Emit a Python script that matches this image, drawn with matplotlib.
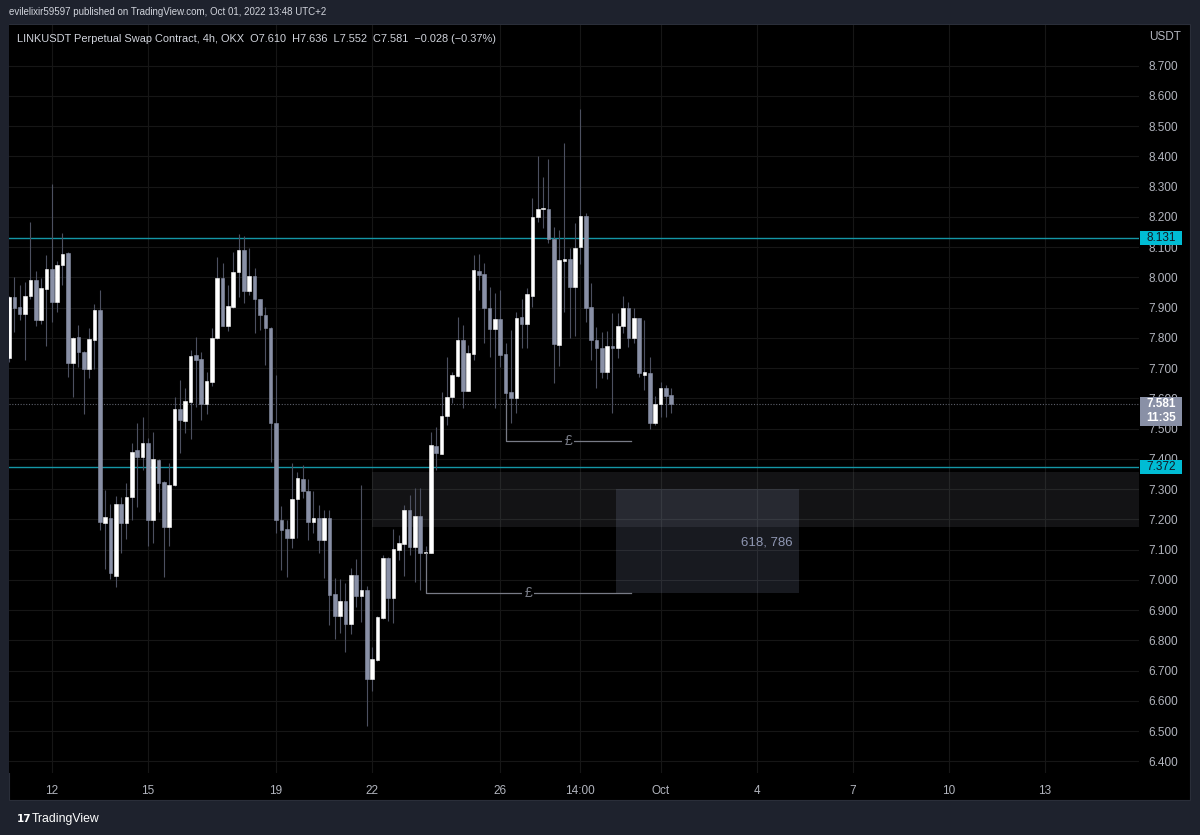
import matplotlib
matplotlib.use("Agg")
import matplotlib.pyplot as plt
import matplotlib.transforms as mtransforms
from matplotlib.patches import Rectangle
import numpy as np
import pandas as pd

# LINKUSDT perpetual, OKX, 4h bars (times in UTC+2)
first_bar = "2022-09-10 18:00"

opens = [7.734, 7.935, 7.903, 7.880, 7.939, 7.992, 7.859, 7.963, 8.027, 7.918,
         8.041, 8.082, 7.716, 7.802, 7.755, 7.696, 7.794, 7.891, 7.187, 7.204,
         7.014, 7.250, 7.189, 7.273, 7.430, 7.407, 7.452, 7.198, 7.397, 7.324,
         7.176, 7.313, 7.564, 7.526, 7.589, 7.743, 7.729, 7.582, 7.655, 7.799,
         7.997, 7.840, 7.903, 8.019, 8.091, 7.956, 8.006, 7.928, 7.876, 7.834,
         7.518, 7.198, 7.167, 7.138, 7.267, 7.333, 7.295, 7.193, 7.206, 7.132,
         7.206, 6.954, 6.881, 6.931, 6.854, 7.016, 6.948, 6.967, 6.672, 6.734,
         6.873, 7.072, 6.939, 7.099, 7.119, 7.231, 7.108, 7.211, 7.088, 7.090,
         7.444, 7.418, 7.543, 7.604, 7.675, 7.793, 7.626, 7.746, 8.021, 8.010,
         7.900, 7.829, 7.863, 7.746, 7.622, 7.600, 7.868, 7.846, 7.940, 8.199,
         8.225, 8.225, 8.126, 7.777, 8.054, 8.060, 7.969, 8.100, 8.204, 7.903,
         7.793, 7.768, 7.687, 7.774, 7.766, 7.840, 7.900, 7.801, 7.865, 7.677,
         7.685, 7.518, 7.582, 7.634, 7.610]
highs = [7.940, 8.002, 7.975, 7.986, 8.184, 8.022, 7.998, 8.075, 8.309, 8.055,
         8.148, 8.085, 7.803, 7.842, 7.757, 7.832, 7.912, 7.959, 7.297, 7.251,
         7.278, 7.275, 7.320, 7.454, 7.520, 7.538, 7.469, 7.490, 7.400, 7.326,
         7.386, 7.604, 7.661, 7.633, 7.760, 7.804, 7.755, 7.687, 7.832, 8.069,
         8.047, 7.975, 8.085, 8.144, 8.137, 8.096, 8.030, 7.930, 7.901, 7.836,
         7.678, 7.245, 7.198, 7.386, 7.358, 7.380, 7.333, 7.295, 7.248, 7.231,
         7.231, 7.005, 7.002, 6.989, 7.041, 7.069, 7.314, 6.981, 6.779, 6.881,
         7.083, 7.077, 7.167, 7.149, 7.248, 7.281, 7.303, 7.303, 7.112, 7.490,
         7.507, 7.622, 7.738, 7.689, 7.868, 7.843, 7.777, 8.074, 8.078, 8.049,
         7.969, 7.948, 7.959, 7.783, 7.826, 7.887, 7.928, 7.964, 8.262, 8.402,
         8.333, 8.391, 8.168, 8.157, 8.445, 8.096, 8.181, 8.556, 8.212, 7.983,
         7.837, 7.819, 7.823, 7.882, 7.882, 7.939, 7.920, 7.900, 7.867, 7.859,
         7.738, 7.608, 7.655, 7.644, 7.636]
lows = [7.721, 7.820, 7.859, 7.727, 7.929, 7.840, 7.846, 7.774, 7.854, 7.885,
        7.975, 7.672, 7.604, 7.705, 7.548, 7.669, 7.697, 7.165, 7.035, 7.002,
        6.978, 7.090, 7.135, 7.198, 7.242, 7.365, 7.113, 7.121, 7.226, 7.011,
        7.113, 7.310, 7.420, 7.485, 7.465, 7.571, 7.529, 7.548, 7.642, 7.797,
        7.839, 7.824, 7.898, 7.936, 7.915, 7.942, 7.815, 7.826, 7.711, 7.391,
        7.154, 7.033, 7.009, 7.105, 7.138, 7.270, 7.132, 7.154, 7.090, 7.005,
        6.851, 6.805, 6.826, 6.763, 6.820, 6.912, 6.862, 6.518, 6.634, 6.733,
        6.872, 6.865, 6.859, 7.066, 7.013, 7.083, 6.994, 6.967, 7.066, 7.088,
        7.363, 7.416, 7.512, 7.584, 7.672, 7.567, 7.624, 7.727, 7.959, 7.782,
        7.738, 7.567, 7.705, 7.595, 7.518, 7.553, 7.766, 7.766, 7.903, 8.184,
        8.162, 8.113, 7.652, 7.708, 7.885, 7.801, 7.806, 8.044, 7.854, 7.727,
        7.633, 7.667, 7.663, 7.551, 7.733, 7.815, 7.771, 7.784, 7.672, 7.628,
        7.498, 7.512, 7.540, 7.540, 7.552]
closes = [7.935, 7.899, 7.878, 7.940, 7.992, 7.859, 7.966, 8.027, 7.919, 8.041,
          8.077, 7.718, 7.801, 7.755, 7.697, 7.798, 7.893, 7.193, 7.207, 7.022,
          7.250, 7.189, 7.274, 7.424, 7.405, 7.452, 7.198, 7.401, 7.322, 7.176,
          7.313, 7.565, 7.529, 7.591, 7.741, 7.727, 7.581, 7.657, 7.800, 7.997,
          7.840, 7.906, 8.019, 8.091, 7.956, 8.006, 7.928, 7.875, 7.832, 7.518,
          7.198, 7.165, 7.138, 7.267, 7.336, 7.295, 7.193, 7.206, 7.132, 7.206,
          6.950, 6.881, 6.931, 6.854, 7.016, 6.947, 6.967, 6.672, 6.739, 6.877,
          7.072, 6.939, 7.101, 7.121, 7.231, 7.110, 7.211, 7.090, 7.093, 7.446,
          7.419, 7.543, 7.606, 7.678, 7.793, 7.626, 7.751, 8.025, 8.008, 7.900,
          7.829, 7.863, 7.744, 7.619, 7.600, 7.865, 7.845, 7.944, 8.199, 8.225,
          8.229, 8.126, 7.779, 8.058, 8.061, 7.969, 8.098, 8.204, 7.898, 7.793,
          7.766, 7.689, 7.774, 7.766, 7.840, 7.900, 7.801, 7.865, 7.683, 7.689,
          7.518, 7.582, 7.634, 7.609, 7.581]

tick_times = ["2022-09-12 02:00", "2022-09-15 02:00", "2022-09-19 02:00",
              "2022-09-22 02:00", "2022-09-26 02:00", "2022-09-28 14:00",
              "2022-10-01 02:00", "2022-10-04 02:00", "2022-10-07 02:00",
              "2022-10-10 02:00", "2022-10-13 02:00"]
tick_labels = ["12", "15", "19", "22", "26", "14:00", "Oct", "4", "7", "10", "13"]
price_ticks = [6.4, 6.5, 6.6, 6.7, 6.8, 6.9, 7.0, 7.1, 7.2, 7.3, 7.4, 7.5,
               7.6, 7.7, 7.8, 7.9, 8.0, 8.1, 8.2, 8.3, 8.4, 8.5, 8.6, 8.7]

# drawings
levels = [8.131, 7.372]
zone_start = "2022-09-22 02:00"
zone_top, zone_bottom = 7.358, 7.176
fib_start, fib_end = "2022-09-29 17:00", "2022-10-05 10:00"
fib_top, fib_bottom = 7.300, 6.958
fib_text = "618, 786"
paths = [("2022-09-23 18:00", 7.090, 6.958), ("2022-09-26 06:00", 7.595, 7.458)]
path_end = "2022-09-30 04:00"
countdown = "11:35"

t0 = pd.Timestamp(first_bar)


def pos(ts):
    return (pd.Timestamp(ts) - t0) / pd.Timedelta(hours=4)


W, H = 1200, 835
BG = "#1e222d"
TXT = "#b2b5be"
BULL, BEAR, WICK = "#ffffff", "#8990a6", "#4c5060"
CYAN = "#00bcd4"
plt.rcParams["font.family"] = ["Liberation Sans", "DejaVu Sans"]

fig = plt.figure(figsize=(W / 100, H / 100), dpi=100, facecolor=BG)
fig.add_artist(Rectangle((9 / W, 35 / H), 1181 / W, 776 / H, transform=fig.transFigure,
                         fc="#000000", ec="#2a2e39", lw=0.8, zorder=-5))
ax = fig.add_axes([9 / W, (H - 773) / H, 1130 / W, 748 / H])
ax.set_facecolor("#000000")

x = np.arange(len(opens))
o, h, l, c = (np.array(v) for v in (opens, highs, lows, closes))
up = c >= o
lo = np.minimum(o, c)
ht = np.abs(c - o)

ax.vlines(x, l, h, color=WICK, lw=0.8, zorder=3)
ax.bar(x[up], ht[up], bottom=lo[up], width=0.68, color=BULL, edgecolor=BULL, lw=0.4, zorder=4)
ax.bar(x[~up], ht[~up], bottom=lo[~up], width=0.68, color=BEAR, edgecolor=BEAR, lw=0.4, zorder=4)

ax.set_xlim(0, 211.6)
ax.set_ylim(6.3618, 8.8346)

# zones
xmax = ax.get_xlim()[1]
ax.add_patch(Rectangle((pos(zone_start), zone_bottom), xmax - pos(zone_start), zone_top - zone_bottom,
                       fc="#787b86", alpha=0.16, ec="none", zorder=1))
ax.add_patch(Rectangle((pos(fib_start), fib_bottom), pos(fib_end) - pos(fib_start), fib_top - fib_bottom,
                       fc="#8f9bbf", alpha=0.17, ec="none", zorder=1))
ax.text(pos(fib_end) - 1.2, (fib_top + fib_bottom) / 2 - 0.004, fib_text, color="#8f97b3",
        fontsize=9.5, ha="right", va="center", zorder=5)

for start, y0, y1 in paths:
    xs, xe = pos(start), pos(path_end)
    ax.plot([xs, xs, xe], [y0, y1, y1], color="#787b86", lw=0.9, zorder=5)
    ax.text((xs + xe) / 2, y1, "£", color="#787b86", fontsize=10, ha="center", va="center",
            bbox=dict(boxstyle="square,pad=0.15", fc="#000000", ec="none"), zorder=6)

for lv in levels:
    ax.axhline(lv, color="#1496a6", lw=1.0, zorder=2)
ax.axhline(closes[-1], color="#5d606b", lw=0.8, ls=(0, (1, 1.5)), zorder=2)

# grid and axes
ax.set_yticks(price_ticks)
ax.set_yticklabels([f"{p:.3f}" for p in price_ticks])
ax.set_xticks([pos(t) for t in tick_times])
ax.set_xticklabels(tick_labels)
ax.yaxis.tick_right()
ax.tick_params(axis="y", length=0, pad=7, labelsize=8.5, labelcolor=TXT)
ax.tick_params(axis="x", length=0, pad=9, labelsize=8.5, labelcolor=TXT)
ax.grid(True, color="#161616", lw=0.8, zorder=0)
ax.set_axisbelow(True)
for s in ax.spines.values():
    s.set_visible(False)

# price tags on the scale
blend = mtransforms.blended_transform_factory(ax.transAxes, ax.transData)
dpp = (8.8346 - 6.3618) / 748
bx, bw = 1.0 / 1130 + 1.0, 42 / 1130
for lv in levels:
    ax.add_patch(Rectangle((bx, lv - 7 * dpp), bw, 14 * dpp, transform=blend, fc=CYAN,
                           ec="none", clip_on=False, zorder=7))
    ax.text(bx + bw / 2, lv, f"{lv:.3f}", transform=blend, color="#131722", fontsize=8.5,
            ha="center", va="center", clip_on=False, zorder=8)
last = closes[-1]
ax.add_patch(Rectangle((bx, last - 22 * dpp), bw, 29 * dpp, transform=blend, fc="#8990a6",
                       ec="none", clip_on=False, zorder=7))
ax.text(bx + bw / 2, last, f"{last:.3f}", transform=blend, color="#ffffff", fontsize=8.5,
        fontweight="bold", ha="center", va="center", clip_on=False, zorder=8)
ax.text(bx + bw / 2, last - 14 * dpp, countdown, transform=blend, color="#ffffff", fontsize=8.5,
        fontweight="bold", ha="center", va="center", clip_on=False, zorder=8)

# header / legend / footer
fig.text(9 / W, 1 - 12 / H, "evilelixir59597 published on TradingView.com, Oct 01, 2022 13:48 UTC+2",
         color="#d1d4dc", fontsize=7.0, va="center", ha="left")
chg = closes[-1] - closes[-2]
legend = (f"LINKUSDT Perpetual Swap Contract, 4h, OKX  O{opens[-1]:.3f}  H{highs[-1]:.3f}  "
          f"L{lows[-1]:.3f}  C{closes[-1]:.3f}  {chg:+.3f} ({chg / closes[-2] * 100:+.2f}%)").replace("-", "\u2212")
fig.text(17 / W, 1 - 39 / H, legend, color="#d1d4dc", fontsize=7.9, va="center", ha="left")
fig.text(1149 / W, 1 - 37 / H, "USDT", color=TXT, fontsize=8.5, va="center", ha="left")
fig.text(17 / W, 1 - 819 / H, "17", color="#ffffff", fontsize=7.5, fontweight="bold",
         family=["DejaVu Sans"], va="center", ha="left")
fig.text(32 / W, 1 - 819 / H, "TradingView", color="#ffffff", fontsize=8.8, va="center", ha="left")

fig.savefig("out.png", dpi=100, facecolor=BG)
